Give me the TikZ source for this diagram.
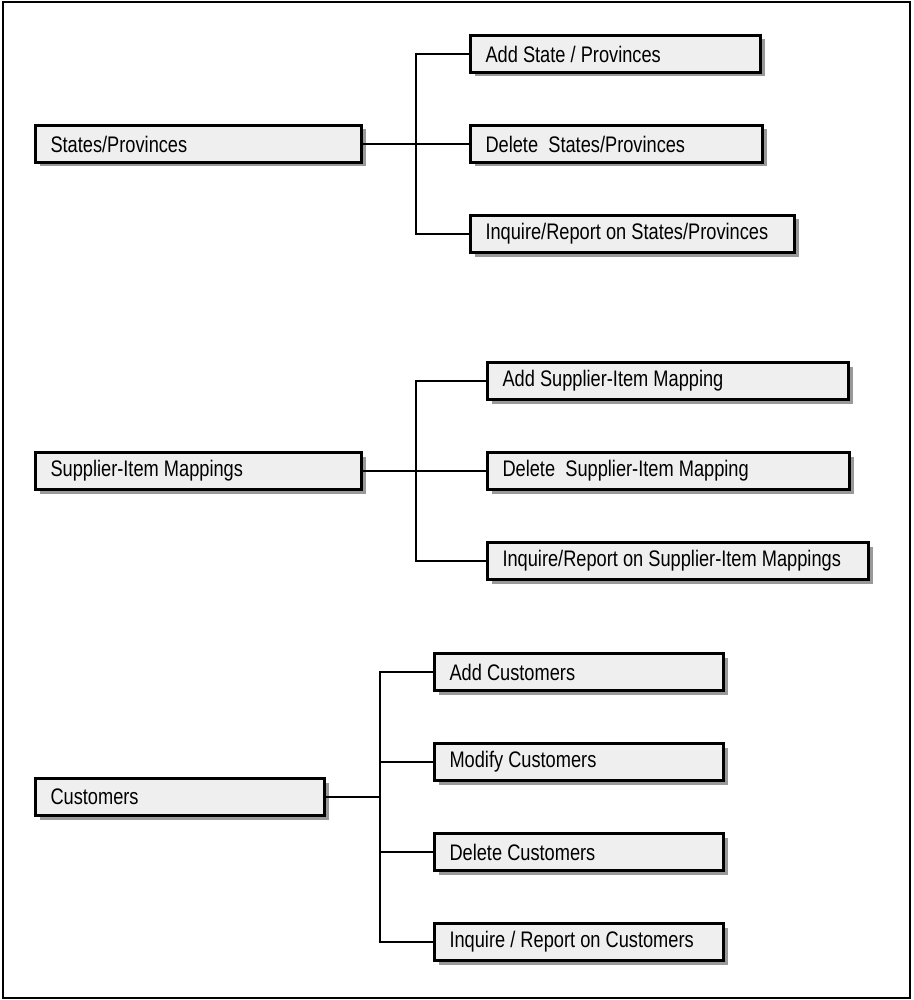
\documentclass[tikz,border=0pt]{standalone}
\usepackage{fontspec}
\setmainfont{Liberation Sans}[FakeStretch=0.81]
\usetikzlibrary{positioning,shadows}

\definecolor{boxfill}{HTML}{EFEFEF}

\begin{document}
\begin{tikzpicture}[
        x=1pt, y=-1pt,
        item/.style={
            draw,
            line width=3pt,
            fill=boxfill,
            align=left,
            text width=#1,
            minimum height=37pt,
            inner xsep=15pt,
            inner ysep=0pt,
            font=\fontsize{22.5}{26}\selectfont,
            execute at begin node={\spaceskip=5.1pt\relax},
            drop shadow={shadow xshift=4pt, shadow yshift=-4pt,
                fill=black!40, opacity=1}
        },
        link/.style={
            line width=2.5pt
        },
        node distance=50pt
    ]

        \useasboundingbox (0,0) rectangle (913,1000);
        \draw[line width=2.5pt] (3,2) rectangle (910,998);

        % states / provinces
        \node[item=296pt, anchor=north west] (states) at (34,124)
            {States/Provinces};

        \node[item=260pt, anchor=north west] (addstate) at (469,34)
            {Add State / Provinces};

        \node[item=262pt, below=of addstate.south west, anchor=north west] (delstate)
            {Delete\ \ States/Provinces};

        \node[item=294pt, below=of delstate.south west, anchor=north west] (inqstate)
            {Inquire/Report on States/Provinces};

        \coordinate (statesbus) at (416,144);

        \draw[link] (states.east) -- (delstate.west);
        \draw[link] (addstate.west) -| (statesbus) |- (inqstate.west);

        % supplier-item mappings
        \node[item=296pt, anchor=north west] (mappings) at (34,451)
            {Supplier-Item Mappings};

        \node[item=331pt, anchor=north west] (addmap) at (486,361)
            {Add Supplier-Item Mapping};

        \node[item=332pt, below=of addmap.south west, anchor=north west] (delmap)
            {Delete\ \ Supplier-Item Mapping};

        \node[item=351pt, below=of delmap.south west, anchor=north west] (inqmap)
            {Inquire/Report on Supplier-Item Mappings};

        \coordinate (mapbus) at (416,470);

        \draw[link] (mappings.east) -- (delmap.west);
        \draw[link] (addmap.west) -| (mapbus) |- (inqmap.west);

        % customers
        \node[item=259pt, anchor=north west] (customers) at (34,777)
            {Customers};

        \node[item=259pt, anchor=north west] (addcust) at (433,652)
            {Add Customers};

        \node[item=259pt, below=of addcust.south west, anchor=north west] (modcust)
            {Modify Customers};

        \node[item=259pt, below=of modcust.south west, anchor=north west] (delcust)
            {Delete Customers};

        \node[item=259pt, below=of delcust.south west, anchor=north west] (inqcust)
            {Inquire / Report on Customers};

        \coordinate (custbus) at (380,797);

        \draw[link] (customers.east) -- (custbus);
        \draw[link] (addcust.west) -| (custbus) |- (inqcust.west);
        \draw[link] (modcust.west) -- (modcust.west -| custbus);
        \draw[link] (delcust.west) -- (delcust.west -| custbus);

    \end{tikzpicture}
\end{document}
